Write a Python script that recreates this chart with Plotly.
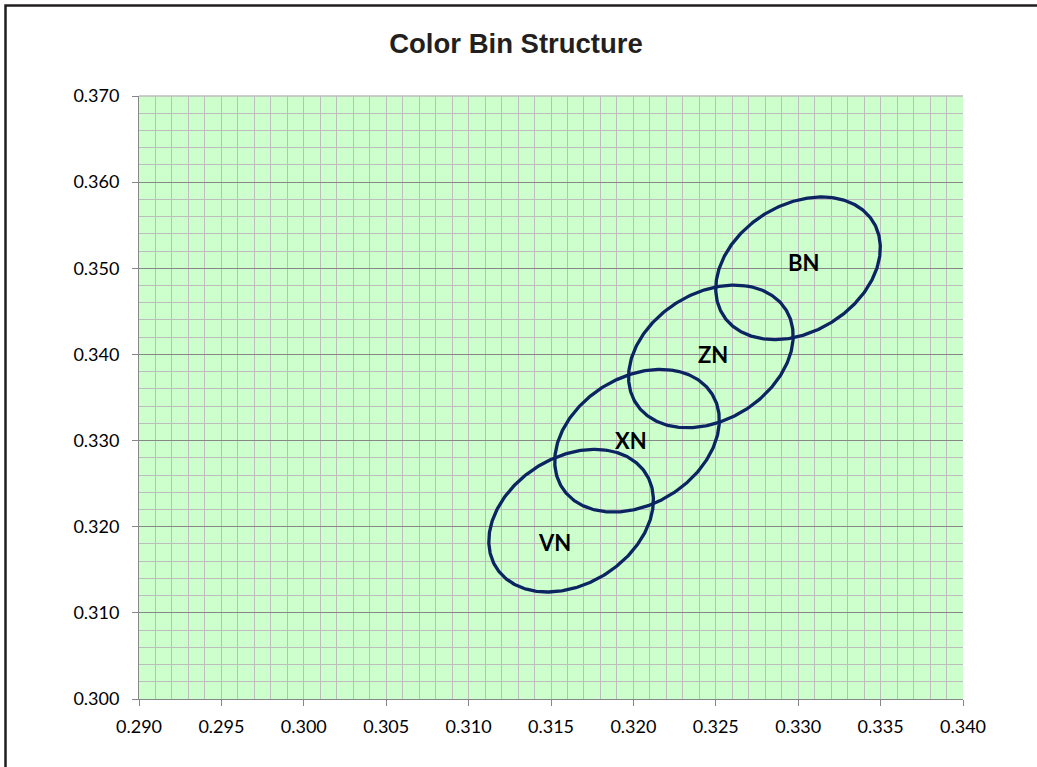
import numpy as np
import plotly.graph_objects as go

# ---- data ----
bins = ["VN", "XN", "ZN", "BN"]
center_x = [0.31622, 0.32022, 0.32470, 0.32999]
center_y = [0.32070, 0.32998, 0.33977, 0.35000]
semi_major = [0.00846, 0.00846, 0.00846, 0.00846]
semi_minor = [0.00468, 0.00468, 0.00468, 0.00468]
tilt_deg = [75.7, 75.7, 75.7, 75.7]
label_x = [0.31521, 0.31988, 0.32481, 0.33035]
label_y = [0.31815, 0.32996, 0.33996, 0.35063]

x_ticks = [0.290, 0.295, 0.300, 0.305, 0.310, 0.315, 0.320, 0.325, 0.330, 0.335, 0.340]
y_ticks = [0.300, 0.310, 0.320, 0.330, 0.340, 0.350, 0.360, 0.370]

LINE_COLOR = "#0c2461"
MINOR_GRID = "#bdbdbd"
MAJOR_GRID = "#878787"
AXIS_COLOR = "#878787"

fig = go.Figure()

t = np.linspace(0, 2 * np.pi, 361)
for name, cx, cy, a, b, th in zip(bins, center_x, center_y, semi_major, semi_minor, tilt_deg):
    r = np.deg2rad(th)
    xs = cx + a * np.cos(r) * np.cos(t) - b * np.sin(r) * np.sin(t)
    ys = cy + a * np.sin(r) * np.cos(t) + b * np.cos(r) * np.sin(t)
    fig.add_trace(go.Scatter(x=xs, y=ys, mode="lines", name=name,
                             line=dict(color=LINE_COLOR, width=3.3),
                             showlegend=False, hoverinfo="skip"))

for name, lx, ly in zip(bins, label_x, label_y):
    fig.add_annotation(x=lx, y=ly, text=name, showarrow=False,
                       xanchor="center", yanchor="middle",
                       font=dict(family="Lato", size=22, color="#000000", weight="bold"))

fig.update_layout(
    width=1037, height=767,
    margin=dict(l=139, r=74, t=96, b=68, pad=0),
    paper_bgcolor="#ffffff",
    plot_bgcolor="#ccffcc",
    title=dict(text="Color Bin Structure", x=516 / 1037, y=1 - 43 / 767,
               xanchor="center", yanchor="middle", xref="container", yref="container",
               font=dict(family="Liberation Sans", size=27.5, color="#231f20", weight="bold")),
    showlegend=False,
)

fig.update_xaxes(
    range=[0.290, 0.340], tickvals=x_ticks, tickformat=".3f",
    showgrid=True, gridcolor=MINOR_GRID, gridwidth=1,
    minor=dict(dtick=0.001, showgrid=True, gridcolor=MINOR_GRID, gridwidth=1),
    showline=True, linecolor=AXIS_COLOR, linewidth=1,
    ticks="outside", ticklen=6, tickcolor=AXIS_COLOR, tickwidth=1,
    ticklabelstandoff=5,
    tickfont=dict(family="Lato", size=18, color="#000000"),
    zeroline=False, fixedrange=True,
)
fig.update_yaxes(
    range=[0.300, 0.370], tickvals=y_ticks, tickformat=".3f",
    showgrid=True, gridcolor=MAJOR_GRID, gridwidth=1,
    minor=dict(dtick=0.002, showgrid=True, gridcolor=MINOR_GRID, gridwidth=1),
    showline=True, linecolor=AXIS_COLOR, linewidth=1,
    ticks="outside", ticklen=6, tickcolor=AXIS_COLOR, tickwidth=1,
    ticklabelstandoff=9,
    tickfont=dict(family="Lato", size=18, color="#000000"),
    zeroline=False, fixedrange=True,
)

# light top edge of the plot area
fig.add_shape(type="line", xref="paper", yref="paper", x0=0, x1=1, y0=1, y1=1,
              line=dict(color=MINOR_GRID, width=1.5), layer="above")

# outer chart frame (only top and left edges fall inside the picture)
fig.add_shape(type="rect", xref="paper", yref="paper",
              x0=(5.5 - 139) / 824, x1=1.3, y0=-0.3, y1=1 + (96 - 5.5) / 603,
              line=dict(color="#231f20", width=2.5), fillcolor="rgba(0,0,0,0)", layer="above")

fig.write_html("out.html",
               config={"displayModeBar": False},
               post_script="document.body.style.margin='0';document.body.style.overflow='hidden';")
